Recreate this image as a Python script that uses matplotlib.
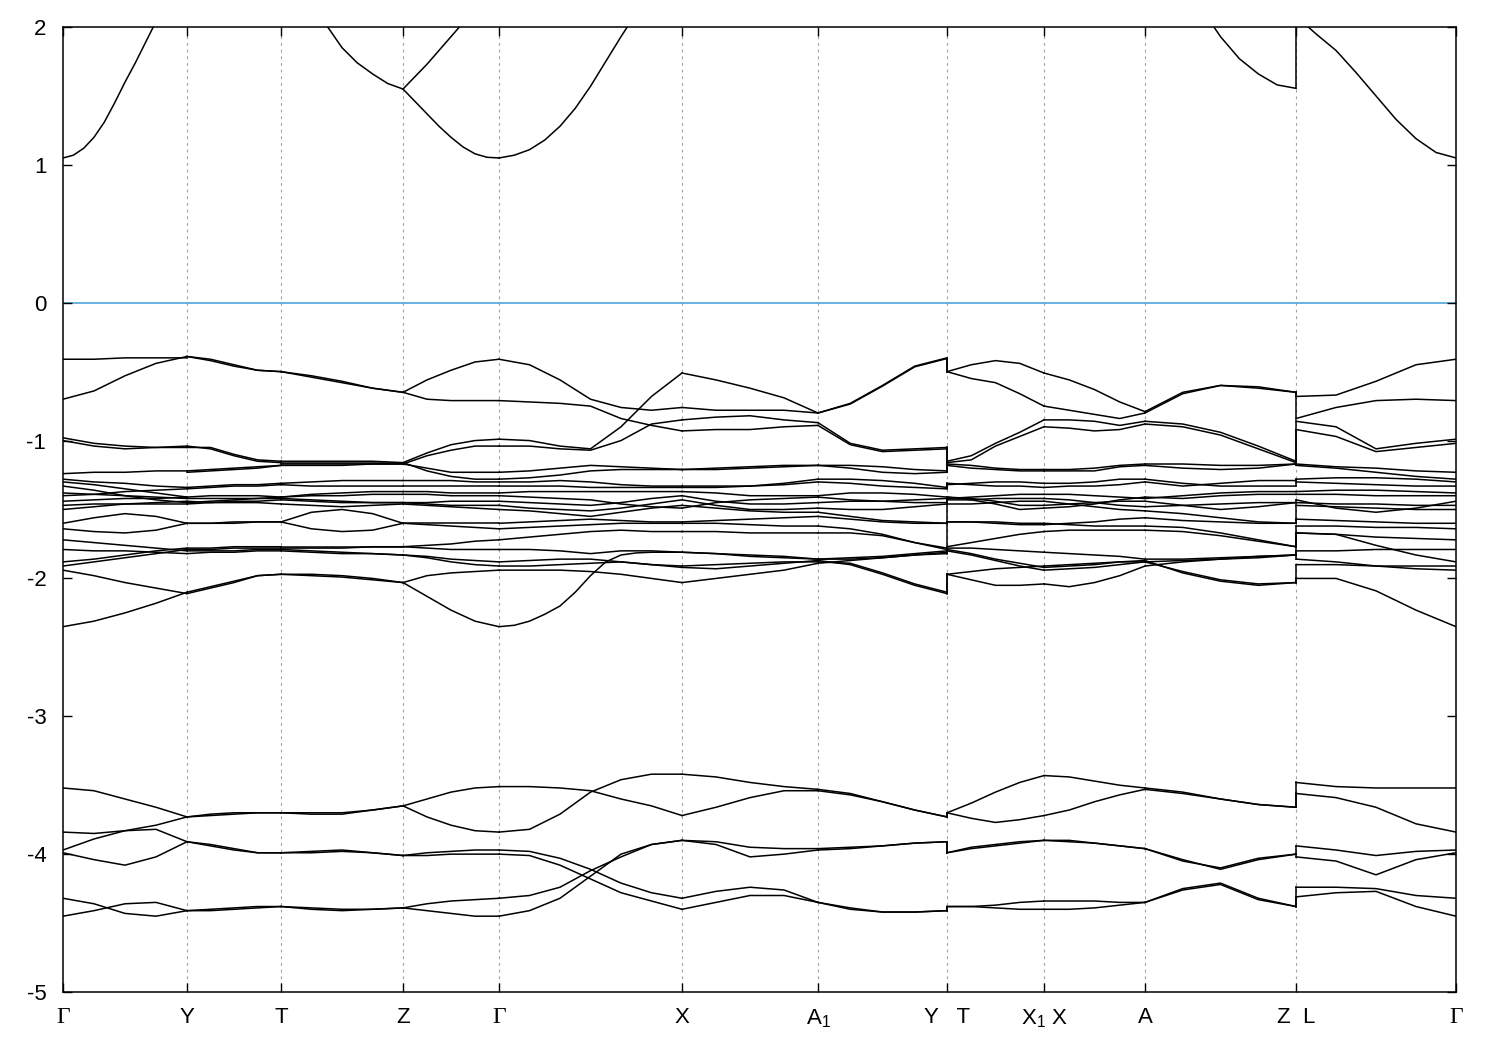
import numpy as np
import matplotlib
matplotlib.use("Agg")
import matplotlib.pyplot as plt

plt.rcParams["font.family"] = ["Liberation Sans", "DejaVu Sans"]
plt.rcParams["mathtext.fontset"] = "custom"
plt.rcParams["mathtext.rm"] = "Liberation Sans"
plt.rcParams["mathtext.it"] = "Liberation Sans"

# ---------------- data ----------------
# high-symmetry points along the k-path (path-length units)
node_k = [0, 124, 218, 340, 436, 619, 755, 884, 981, 1082, 1233, 1393]
node_labels = ["Γ", "Y", "T", "Z", "Γ", "X", "A$_1$", "Y   T", "X$_1$ X", "A", "Z  L", "Γ"]
energy_ticks = [-5, -4, -3, -2, -1, 0, 1, 2]
jump_nodes = [7, 10]   # discontinuous path points (Y|T and Z|L)

# Each segment: list of bands, energies (eV) sampled evenly along the segment
seg_G_Y = [
    [-0.41, -0.41, -0.40, -0.40, -0.40],
    [-0.70, -0.64, -0.53, -0.44, -0.39],
    [-0.98, -1.02, -1.04, -1.05, -1.05],
    [-1.00, -1.04, -1.06, -1.05, -1.04],
    [-1.24, -1.23, -1.23, -1.22, -1.22],
    [-1.28, -1.30, -1.31, -1.33, -1.34],
    [-1.30, -1.32, -1.35, -1.38, -1.41],
    [-1.33, -1.36, -1.40, -1.43, -1.45],
    [-1.38, -1.39, -1.40, -1.41, -1.42],
    [-1.40, -1.39, -1.37, -1.36, -1.35],
    [-1.44, -1.43, -1.42, -1.42, -1.41],
    [-1.47, -1.46, -1.46, -1.46, -1.46],
    [-1.50, -1.48, -1.46, -1.45, -1.44],
    [-1.60, -1.56, -1.53, -1.55, -1.60],
    [-1.64, -1.66, -1.67, -1.65, -1.60],
    [-1.72, -1.74, -1.76, -1.78, -1.80],
    [-1.79, -1.80, -1.80, -1.81, -1.82],
    [-1.88, -1.86, -1.83, -1.80, -1.78],
    [-1.91, -1.88, -1.85, -1.82, -1.79],
    [-1.94, -1.98, -2.03, -2.07, -2.11],
    [-2.35, -2.31, -2.25, -2.18, -2.10],
    [-3.52, -3.54, -3.60, -3.66, -3.73],
    [-3.84, -3.85, -3.83, -3.82, -3.91],
    [-3.97, -3.89, -3.83, -3.79, -3.73],
    [-3.99, -4.04, -4.08, -4.02, -3.91],
    [-4.32, -4.36, -4.43, -4.45, -4.41],
    [-4.45, -4.41, -4.36, -4.35, -4.41],
    [1.05, 1.07, 1.12, 1.20, 1.31, 1.45, 1.60, 1.74, 1.89, 2.04, 2.20, 2.35, 2.50],
]

seg_Y_T = [
    [-0.39, -0.41, -0.45, -0.49, -0.50],
    [-0.39, -0.42, -0.46, -0.49, -0.50],
    [-1.05, -1.05, -1.10, -1.14, -1.15],
    [-1.04, -1.06, -1.11, -1.15, -1.16],
    [-1.22, -1.21, -1.20, -1.19, -1.18],
    [-1.23, -1.22, -1.21, -1.20, -1.18],
    [-1.34, -1.33, -1.32, -1.32, -1.31],
    [-1.35, -1.34, -1.33, -1.33, -1.32],
    [-1.41, -1.40, -1.40, -1.40, -1.41],
    [-1.42, -1.42, -1.42, -1.42, -1.41],
    [-1.45, -1.44, -1.43, -1.42, -1.42],
    [-1.46, -1.45, -1.44, -1.44, -1.43],
    [-1.44, -1.45, -1.45, -1.45, -1.46],
    [-1.60, -1.60, -1.59, -1.59, -1.59],
    [-1.60, -1.60, -1.60, -1.59, -1.59],
    [-1.78, -1.78, -1.77, -1.77, -1.77],
    [-1.79, -1.79, -1.78, -1.78, -1.78],
    [-1.80, -1.80, -1.80, -1.79, -1.79],
    [-1.82, -1.81, -1.81, -1.80, -1.80],
    [-2.11, -2.07, -2.03, -1.98, -1.97],
    [-2.10, -2.06, -2.02, -1.98, -1.97],
    [-3.73, -3.71, -3.70, -3.70, -3.70],
    [-3.73, -3.72, -3.71, -3.70, -3.70],
    [-3.91, -3.93, -3.96, -3.99, -3.99],
    [-3.91, -3.94, -3.97, -3.99, -3.99],
    [-4.41, -4.40, -4.39, -4.38, -4.38],
    [-4.41, -4.41, -4.40, -4.39, -4.38],
]

seg_T_Z = [
    [-0.50, -0.53, -0.57, -0.62, -0.65],
    [-0.50, -0.54, -0.58, -0.62, -0.65],
    [-1.15, -1.15, -1.15, -1.15, -1.16],
    [-1.16, -1.16, -1.16, -1.16, -1.16],
    [-1.17, -1.17, -1.17, -1.17, -1.17],
    [-1.18, -1.18, -1.18, -1.17, -1.17],
    [-1.31, -1.30, -1.29, -1.29, -1.29],
    [-1.32, -1.33, -1.33, -1.33, -1.33],
    [-1.41, -1.39, -1.38, -1.37, -1.37],
    [-1.41, -1.40, -1.40, -1.39, -1.39],
    [-1.42, -1.43, -1.44, -1.45, -1.45],
    [-1.43, -1.44, -1.45, -1.45, -1.45],
    [-1.46, -1.47, -1.48, -1.47, -1.46],
    [-1.59, -1.52, -1.50, -1.53, -1.60],
    [-1.59, -1.64, -1.66, -1.65, -1.60],
    [-1.77, -1.77, -1.77, -1.77, -1.77],
    [-1.78, -1.78, -1.78, -1.77, -1.77],
    [-1.79, -1.80, -1.81, -1.82, -1.83],
    [-1.80, -1.81, -1.82, -1.82, -1.83],
    [-1.97, -1.97, -1.98, -2.00, -2.03],
    [-1.97, -1.98, -1.99, -2.01, -2.03],
    [-3.70, -3.71, -3.71, -3.68, -3.65],
    [-3.70, -3.70, -3.70, -3.68, -3.65],
    [-3.99, -3.98, -3.97, -3.99, -4.01],
    [-3.99, -3.99, -3.98, -3.99, -4.01],
    [-4.38, -4.40, -4.41, -4.40, -4.39],
    [-4.38, -4.39, -4.40, -4.40, -4.39],
    [2.80, 2.50, 2.25, 2.01, 1.85, 1.74, 1.66, 1.59, 1.55],
]

seg_Z_G = [
    [-0.65, -0.56, -0.49, -0.43, -0.41],
    [-0.65, -0.70, -0.71, -0.71, -0.71],
    [-1.16, -1.09, -1.03, -1.00, -0.99],
    [-1.17, -1.11, -1.07, -1.04, -1.04],
    [-1.17, -1.20, -1.23, -1.23, -1.23],
    [-1.16, -1.22, -1.26, -1.28, -1.28],
    [-1.29, -1.29, -1.29, -1.30, -1.30],
    [-1.33, -1.33, -1.33, -1.33, -1.33],
    [-1.37, -1.37, -1.38, -1.38, -1.38],
    [-1.39, -1.39, -1.40, -1.40, -1.40],
    [-1.45, -1.45, -1.44, -1.44, -1.44],
    [-1.45, -1.46, -1.47, -1.47, -1.47],
    [-1.46, -1.47, -1.48, -1.49, -1.50],
    [-1.60, -1.60, -1.60, -1.60, -1.60],
    [-1.60, -1.61, -1.62, -1.63, -1.64],
    [-1.77, -1.76, -1.75, -1.73, -1.72],
    [-1.77, -1.78, -1.79, -1.79, -1.79],
    [-1.83, -1.84, -1.86, -1.87, -1.88],
    [-1.83, -1.85, -1.88, -1.90, -1.91],
    [-2.03, -1.98, -1.96, -1.95, -1.94],
    [-2.03, -2.13, -2.23, -2.31, -2.35],
    [-3.65, -3.60, -3.55, -3.52, -3.51],
    [-3.65, -3.73, -3.79, -3.83, -3.84],
    [-4.01, -3.99, -3.98, -3.97, -3.97],
    [-4.01, -4.01, -4.00, -4.00, -4.00],
    [-4.39, -4.36, -4.34, -4.33, -4.32],
    [-4.39, -4.41, -4.43, -4.45, -4.45],
    [1.55, 1.46, 1.37, 1.28, 1.20, 1.13, 1.08, 1.055, 1.05],
    [1.55, 1.64, 1.73, 1.83, 1.93, 2.03, 2.13, 2.23, 2.30],
]

seg_G_X = [
    [-0.41, -0.45, -0.56, -0.70, -0.76, -0.78, -0.76],
    [-0.71, -0.72, -0.73, -0.75, -0.84, -0.89, -0.93],
    [-0.99, -1.00, -1.04, -1.06, -0.90, -0.68, -0.51],
    [-1.04, -1.04, -1.06, -1.07, -1.00, -0.88, -0.85],
    [-1.23, -1.22, -1.20, -1.18, -1.19, -1.20, -1.21],
    [-1.28, -1.27, -1.25, -1.22, -1.21, -1.21, -1.21],
    [-1.30, -1.30, -1.29, -1.30, -1.32, -1.33, -1.33],
    [-1.33, -1.33, -1.33, -1.34, -1.34, -1.34, -1.34],
    [-1.38, -1.37, -1.37, -1.37, -1.37, -1.37, -1.37],
    [-1.40, -1.41, -1.42, -1.43, -1.46, -1.48, -1.49],
    [-1.44, -1.45, -1.46, -1.47, -1.45, -1.42, -1.40],
    [-1.47, -1.49, -1.50, -1.51, -1.49, -1.46, -1.43],
    [-1.50, -1.51, -1.53, -1.55, -1.52, -1.49, -1.47],
    [-1.60, -1.59, -1.58, -1.57, -1.58, -1.59, -1.59],
    [-1.64, -1.63, -1.62, -1.61, -1.60, -1.60, -1.60],
    [-1.72, -1.70, -1.68, -1.66, -1.65, -1.66, -1.66],
    [-1.79, -1.79, -1.80, -1.82, -1.80, -1.80, -1.81],
    [-1.88, -1.87, -1.86, -1.86, -1.88, -1.90, -1.91],
    [-1.91, -1.91, -1.90, -1.89, -1.88, -1.90, -1.92],
    [-1.94, -1.94, -1.94, -1.95, -1.97, -2.00, -2.03],
    [-2.35, -2.34, -2.31, -2.26, -2.20, -2.10, -1.98, -1.88, -1.83, -1.815, -1.81, -1.81, -1.81],
    [-3.51, -3.51, -3.52, -3.54, -3.60, -3.65, -3.72],
    [-3.84, -3.82, -3.71, -3.55, -3.46, -3.42, -3.42],
    [-3.97, -3.98, -4.03, -4.11, -4.21, -4.28, -4.32],
    [-4.00, -4.01, -4.08, -4.18, -4.28, -4.34, -4.40],
    [-4.32, -4.30, -4.24, -4.12, -4.02, -3.93, -3.90],
    [-4.45, -4.41, -4.32, -4.16, -4.00, -3.93, -3.90],
    [1.05, 1.07, 1.11, 1.18, 1.28, 1.41, 1.57, 1.75, 1.93, 2.10, 2.30, 2.45, 2.60],
]

seg_X_A1 = [
    [-0.51, -0.56, -0.62, -0.69, -0.80],
    [-0.76, -0.78, -0.78, -0.78, -0.80],
    [-0.85, -0.83, -0.82, -0.85, -0.87],
    [-0.93, -0.92, -0.92, -0.90, -0.89],
    [-1.21, -1.20, -1.19, -1.18, -1.18],
    [-1.21, -1.21, -1.20, -1.19, -1.18],
    [-1.33, -1.33, -1.33, -1.32, -1.30],
    [-1.34, -1.34, -1.33, -1.31, -1.28],
    [-1.37, -1.38, -1.40, -1.40, -1.40],
    [-1.49, -1.45, -1.43, -1.42, -1.41],
    [-1.40, -1.44, -1.46, -1.46, -1.45],
    [-1.43, -1.47, -1.50, -1.50, -1.49],
    [-1.47, -1.49, -1.51, -1.52, -1.52],
    [-1.59, -1.58, -1.57, -1.56, -1.55],
    [-1.60, -1.60, -1.61, -1.62, -1.62],
    [-1.66, -1.66, -1.67, -1.67, -1.67],
    [-1.81, -1.82, -1.84, -1.85, -1.86],
    [-1.81, -1.82, -1.83, -1.84, -1.86],
    [-1.91, -1.90, -1.89, -1.88, -1.88],
    [-1.92, -1.93, -1.91, -1.89, -1.87],
    [-2.03, -2.00, -1.97, -1.94, -1.89],
    [-3.42, -3.44, -3.48, -3.51, -3.53],
    [-3.72, -3.66, -3.59, -3.54, -3.54],
    [-3.90, -3.91, -3.95, -3.96, -3.96],
    [-3.90, -3.93, -4.02, -4.00, -3.97],
    [-4.32, -4.27, -4.24, -4.26, -4.35],
    [-4.40, -4.35, -4.30, -4.30, -4.35],
]

seg_A1_Y = [
    [-0.80, -0.73, -0.60, -0.46, -0.40],
    [-0.80, -0.735, -0.605, -0.465, -0.405],
    [-0.87, -1.02, -1.07, -1.06, -1.05],
    [-0.89, -1.03, -1.08, -1.07, -1.06],
    [-1.18, -1.18, -1.19, -1.21, -1.22],
    [-1.18, -1.20, -1.23, -1.24, -1.23],
    [-1.28, -1.28, -1.29, -1.31, -1.34],
    [-1.30, -1.31, -1.33, -1.34, -1.35],
    [-1.40, -1.38, -1.38, -1.39, -1.41],
    [-1.41, -1.43, -1.44, -1.43, -1.42],
    [-1.45, -1.44, -1.44, -1.45, -1.45],
    [-1.49, -1.50, -1.50, -1.48, -1.46],
    [-1.52, -1.55, -1.58, -1.59, -1.60],
    [-1.55, -1.57, -1.59, -1.60, -1.60],
    [-1.62, -1.64, -1.68, -1.74, -1.79],
    [-1.67, -1.67, -1.69, -1.74, -1.78],
    [-1.86, -1.85, -1.84, -1.82, -1.80],
    [-1.86, -1.86, -1.85, -1.83, -1.81],
    [-1.89, -1.87, -1.85, -1.83, -1.82],
    [-1.88, -1.89, -1.96, -2.04, -2.10],
    [-1.87, -1.90, -1.97, -2.05, -2.11],
    [-3.54, -3.57, -3.62, -3.68, -3.73],
    [-3.53, -3.56, -3.62, -3.68, -3.73],
    [-3.96, -3.95, -3.94, -3.92, -3.91],
    [-3.97, -3.96, -3.94, -3.92, -3.91],
    [-4.35, -4.40, -4.42, -4.42, -4.41],
    [-4.35, -4.39, -4.42, -4.42, -4.41],
]

seg_T_X1 = [
    [-0.50, -0.45, -0.42, -0.44, -0.51],
    [-0.50, -0.55, -0.58, -0.66, -0.75],
    [-1.15, -1.11, -1.02, -0.94, -0.85],
    [-1.16, -1.14, -1.04, -0.97, -0.90],
    [-1.18, -1.20, -1.21, -1.22, -1.22],
    [-1.17, -1.18, -1.20, -1.21, -1.21],
    [-1.31, -1.32, -1.33, -1.33, -1.34],
    [-1.32, -1.31, -1.30, -1.30, -1.31],
    [-1.41, -1.43, -1.46, -1.50, -1.49],
    [-1.41, -1.42, -1.44, -1.47, -1.47],
    [-1.42, -1.41, -1.40, -1.39, -1.39],
    [-1.43, -1.43, -1.42, -1.42, -1.42],
    [-1.46, -1.46, -1.45, -1.44, -1.44],
    [-1.59, -1.59, -1.60, -1.61, -1.61],
    [-1.59, -1.59, -1.59, -1.60, -1.60],
    [-1.77, -1.74, -1.71, -1.68, -1.66],
    [-1.78, -1.78, -1.79, -1.80, -1.81],
    [-1.79, -1.82, -1.86, -1.89, -1.92],
    [-1.80, -1.83, -1.87, -1.91, -1.94],
    [-1.97, -1.95, -1.93, -1.92, -1.91],
    [-1.97, -2.01, -2.05, -2.05, -2.04],
    [-3.70, -3.63, -3.55, -3.48, -3.43],
    [-3.70, -3.74, -3.77, -3.75, -3.72],
    [-3.99, -3.96, -3.94, -3.92, -3.90],
    [-3.99, -3.95, -3.93, -3.91, -3.90],
    [-4.38, -4.38, -4.37, -4.35, -4.34],
    [-4.38, -4.38, -4.39, -4.40, -4.40],
]

seg_X1_A = [
    [-0.51, -0.56, -0.63, -0.72, -0.79],
    [-0.75, -0.78, -0.81, -0.84, -0.80],
    [-0.85, -0.85, -0.86, -0.89, -0.86],
    [-0.90, -0.91, -0.93, -0.92, -0.88],
    [-1.22, -1.22, -1.22, -1.19, -1.18],
    [-1.21, -1.21, -1.20, -1.18, -1.17],
    [-1.34, -1.33, -1.33, -1.32, -1.30],
    [-1.31, -1.31, -1.30, -1.28, -1.28],
    [-1.49, -1.48, -1.46, -1.43, -1.41],
    [-1.47, -1.46, -1.45, -1.44, -1.44],
    [-1.39, -1.39, -1.40, -1.41, -1.42],
    [-1.42, -1.43, -1.45, -1.47, -1.48],
    [-1.44, -1.46, -1.48, -1.50, -1.51],
    [-1.61, -1.60, -1.59, -1.57, -1.56],
    [-1.60, -1.61, -1.62, -1.62, -1.62],
    [-1.66, -1.65, -1.65, -1.65, -1.65],
    [-1.81, -1.82, -1.83, -1.84, -1.86],
    [-1.92, -1.91, -1.90, -1.88, -1.87],
    [-1.94, -1.93, -1.92, -1.90, -1.88],
    [-1.91, -1.90, -1.89, -1.88, -1.88],
    [-2.04, -2.06, -2.03, -1.98, -1.91],
    [-3.43, -3.44, -3.47, -3.50, -3.52],
    [-3.72, -3.68, -3.62, -3.57, -3.53],
    [-3.90, -3.90, -3.92, -3.94, -3.96],
    [-3.90, -3.91, -3.92, -3.94, -3.96],
    [-4.34, -4.34, -4.34, -4.35, -4.35],
    [-4.40, -4.40, -4.39, -4.37, -4.35],
]

seg_A_Z = [
    [-0.79, -0.65, -0.60, -0.61, -0.65],
    [-0.80, -0.66, -0.60, -0.62, -0.65],
    [-0.86, -0.88, -0.94, -1.04, -1.15],
    [-0.88, -0.90, -0.96, -1.06, -1.16],
    [-1.18, -1.20, -1.21, -1.20, -1.17],
    [-1.17, -1.17, -1.18, -1.18, -1.17],
    [-1.30, -1.33, -1.31, -1.29, -1.29],
    [-1.28, -1.31, -1.33, -1.33, -1.33],
    [-1.41, -1.42, -1.40, -1.39, -1.39],
    [-1.44, -1.47, -1.50, -1.48, -1.45],
    [-1.42, -1.40, -1.38, -1.37, -1.37],
    [-1.48, -1.47, -1.46, -1.45, -1.45],
    [-1.51, -1.53, -1.56, -1.59, -1.60],
    [-1.56, -1.58, -1.59, -1.60, -1.60],
    [-1.62, -1.63, -1.67, -1.72, -1.77],
    [-1.65, -1.66, -1.69, -1.73, -1.77],
    [-1.86, -1.86, -1.85, -1.84, -1.83],
    [-1.87, -1.96, -2.02, -2.05, -2.03],
    [-1.88, -1.95, -2.01, -2.04, -2.03],
    [-1.88, -1.87, -1.86, -1.85, -1.83],
    [-1.91, -1.88, -1.86, -1.84, -1.83],
    [-3.52, -3.55, -3.60, -3.64, -3.66],
    [-3.53, -3.56, -3.60, -3.64, -3.66],
    [-3.96, -4.05, -4.10, -4.03, -4.00],
    [-3.96, -4.04, -4.11, -4.04, -4.00],
    [-4.35, -4.25, -4.21, -4.32, -4.38],
    [-4.35, -4.26, -4.22, -4.33, -4.38],
    [2.90, 2.60, 2.35, 2.13, 1.93, 1.77, 1.66, 1.58, 1.555],
]

seg_L_G = [
    [-0.68, -0.67, -0.57, -0.45, -0.41],
    [-0.84, -0.76, -0.71, -0.70, -0.71],
    [-0.86, -0.90, -1.06, -1.02, -0.99],
    [-0.92, -0.97, -1.08, -1.05, -1.02],
    [-1.17, -1.19, -1.20, -1.22, -1.23],
    [-1.18, -1.20, -1.23, -1.26, -1.28],
    [-1.28, -1.27, -1.27, -1.28, -1.30],
    [-1.30, -1.31, -1.32, -1.33, -1.33],
    [-1.37, -1.36, -1.36, -1.37, -1.38],
    [-1.39, -1.39, -1.40, -1.40, -1.40],
    [-1.43, -1.49, -1.52, -1.49, -1.44],
    [-1.45, -1.46, -1.46, -1.47, -1.47],
    [-1.47, -1.48, -1.49, -1.50, -1.50],
    [-1.57, -1.58, -1.59, -1.60, -1.60],
    [-1.62, -1.62, -1.63, -1.63, -1.64],
    [-1.67, -1.68, -1.76, -1.83, -1.88],
    [-1.67, -1.68, -1.70, -1.71, -1.72],
    [-1.80, -1.80, -1.79, -1.79, -1.79],
    [-1.86, -1.88, -1.91, -1.93, -1.94],
    [-1.90, -1.90, -1.91, -1.91, -1.91],
    [-2.00, -2.00, -2.09, -2.23, -2.35],
    [-3.48, -3.51, -3.52, -3.52, -3.52],
    [-3.56, -3.59, -3.66, -3.78, -3.84],
    [-3.94, -3.97, -4.01, -3.98, -3.97],
    [-4.02, -4.05, -4.15, -4.04, -3.99],
    [-4.24, -4.24, -4.25, -4.30, -4.32],
    [-4.31, -4.28, -4.27, -4.38, -4.45],
    [2.08, 1.95, 1.83, 1.67, 1.50, 1.33, 1.19, 1.09, 1.05],
]

segments = [seg_G_Y, seg_Y_T, seg_T_Z, seg_Z_G, seg_G_X, seg_X_A1,
            seg_A1_Y, seg_T_X1, seg_X1_A, seg_A_Z, seg_L_G]

# ---------------- plot ----------------
fig = plt.figure(figsize=(15, 10.5), dpi=100)
ax = fig.add_axes([63 / 1500, 1 - 992 / 1050, (1456 - 63) / 1500, (992 - 27) / 1050])

line_kw = dict(color="black", lw=1.1, solid_joinstyle="round")

for i, seg in enumerate(segments):
    k0, k1 = node_k[i], node_k[i + 1]
    for band in seg:
        kk = np.linspace(k0, k1, len(band))
        ax.plot(kk, band, **line_kw)

for n in jump_nodes:
    left = sorted(b[-1] for b in segments[n - 1])
    right = sorted(b[0] for b in segments[n])
    for l, r in zip(left, right):
        ax.plot([node_k[n], node_k[n]], [l, r], **line_kw)

# vertical grid at high-symmetry points
for kx in node_k[1:-1]:
    ax.axvline(kx, color="#a0a0a0", lw=0.8, ls=(0, (2.5, 3.5)), zorder=0)

# Fermi level
ax.axhline(0, color="#4ea6dc", lw=1.2, zorder=1)

ax.set_xlim(node_k[0], node_k[-1])
ax.set_ylim(-5, 2)

ax.set_xticks(node_k)
ax.set_xticklabels(node_labels)
ax.set_yticks(energy_ticks)
ax.set_yticklabels([str(v) for v in energy_ticks])

ax.tick_params(axis="both", direction="in", length=6.5, width=1.0,
               top=True, right=True, labelsize=16)
ax.tick_params(axis="y", pad=12)
ax.tick_params(axis="x", pad=11)

for lbl in ax.get_xticklabels():
    if lbl.get_text() == "Γ":
        lbl.set_fontfamily(["Liberation Serif", "DejaVu Serif"])
        lbl.set_fontsize(17)

for sp in ax.spines.values():
    sp.set_linewidth(1.1)

fig.savefig("out.png", dpi=100)
